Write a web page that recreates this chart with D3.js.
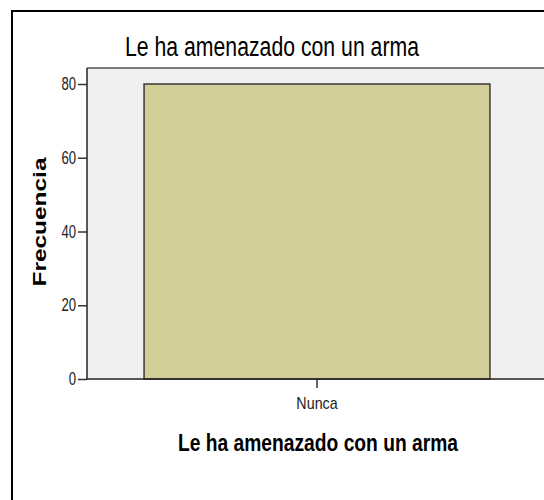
<!DOCTYPE html>
<html>
<head>
<meta charset="utf-8">
<script src="https://cdn.jsdelivr.net/npm/d3@7"></script>
<style>
  body { margin: 0; background: #fff; }
  svg { display: block; }
</style>
</head>
<body>
<script>
var svgWidth = 544;
var svgHeight = 500;

var categories = ["Nunca"];
var frecuencias = [80];
var yTicks = [0, 20, 40, 60, 80];
var chartTitle = "Le ha amenazado con un arma";
var xTitle = "Le ha amenazado con un arma";
var yTitle = "Frecuencia";

var sans = "'Liberation Sans', Arial, sans-serif";

var plotLeft = 87, plotTop = 68, plotRight = 547, plotBottom = 379;

// squeeze text horizontally (the original uses a narrow font)
var squeeze = function (sel, k) {
    sel.each(function () {
        var w = this.getComputedTextLength();
        d3.select(this)
            .attr("textLength", w * k)
            .attr("lengthAdjust", "spacingAndGlyphs");
    });
};

var svg = d3.select("body")
    .append("svg")
    .attr("width", svgWidth)
    .attr("height", svgHeight);

// outer frame (cut by the window on the right and bottom)
svg.append("rect")
    .attr("x", 12).attr("y", 11)
    .attr("width", 700).attr("height", 700)
    .attr("fill", "#fff")
    .attr("stroke", "#000")
    .attr("stroke-width", 2);

var x = d3.scaleBand()
    .domain(categories)
    .range([plotLeft, plotRight])
    .padding(0.1416);

var y = d3.scaleLinear()
    .domain([0, 80])
    .range([plotBottom, 84]);

// plot background
svg.append("rect")
    .attr("x", plotLeft).attr("y", plotTop)
    .attr("width", plotRight - plotLeft).attr("height", plotBottom - plotTop)
    .attr("fill", "#f0f0f0");
svg.append("line")
    .attr("x1", plotLeft).attr("x2", plotRight)
    .attr("y1", plotTop).attr("y2", plotTop)
    .attr("stroke", "#7a7a7a")
    .attr("stroke-width", 2);

svg.selectAll("rect.bar")
    .data(frecuencias)
    .enter()
    .append("rect")
    .attr("class", "bar")
    .attr("x", function (d, i) { return x(categories[i]); })
    .attr("y", function (d) { return y(d); })
    .attr("width", x.bandwidth())
    .attr("height", function (d) { return y(0) - y(d); })
    .attr("fill", "#d3ce97")
    .attr("stroke", "#3a3a3a")
    .attr("stroke-width", 1.5);

// y axis
var yAxis = svg.append("g")
    .attr("transform", "translate(" + plotLeft + ",0)")
    .call(d3.axisLeft(y).tickValues(yTicks).tickSize(9).tickPadding(2).tickSizeOuter(0));
yAxis.select(".domain").remove();
yAxis.append("line")
    .attr("x1", 0).attr("x2", 0)
    .attr("y1", plotTop).attr("y2", plotBottom)
    .attr("stroke", "#222").attr("stroke-width", 1.5);
yAxis.selectAll(".tick line").attr("stroke", "#333").attr("stroke-width", 1.5);
yAxis.selectAll(".tick text")
    .attr("font-family", sans)
    .attr("font-size", "17.5px")
    .attr("fill", "#222")
    .call(squeeze, 0.75);

// x axis
var xAxis = svg.append("g")
    .attr("transform", "translate(0," + plotBottom + ")")
    .call(d3.axisBottom(x).tickSize(9).tickPadding(9).tickSizeOuter(0));
xAxis.select(".domain").remove();
xAxis.append("line")
    .attr("x1", plotLeft).attr("x2", plotRight)
    .attr("y1", 0).attr("y2", 0)
    .attr("stroke", "#222").attr("stroke-width", 1.5);
xAxis.selectAll(".tick line").attr("stroke", "#333").attr("stroke-width", 1.5);
xAxis.selectAll(".tick text")
    .attr("font-family", sans)
    .attr("font-size", "17px")
    .attr("fill", "#222")
    .call(squeeze, 0.84);

// titles
svg.append("text")
    .attr("x", 272).attr("y", 56)
    .attr("text-anchor", "middle")
    .attr("font-family", sans)
    .attr("font-size", "27px")
    .attr("textLength", 294)
    .attr("lengthAdjust", "spacingAndGlyphs")
    .attr("fill", "#000")
    .text(chartTitle);

svg.append("text")
    .attr("x", 318).attr("y", 451)
    .attr("text-anchor", "middle")
    .attr("font-family", sans)
    .attr("font-weight", "bold")
    .attr("font-size", "23px")
    .attr("textLength", 280)
    .attr("lengthAdjust", "spacingAndGlyphs")
    .attr("fill", "#000")
    .text(xTitle);

svg.append("text")
    .attr("transform", "translate(46,222) rotate(-90)")
    .attr("text-anchor", "middle")
    .attr("font-family", sans)
    .attr("font-weight", "bold")
    .attr("font-size", "19px")
    .attr("textLength", 129)
    .attr("lengthAdjust", "spacingAndGlyphs")
    .attr("fill", "#000")
    .text(yTitle);
</script>
</body>
</html>
